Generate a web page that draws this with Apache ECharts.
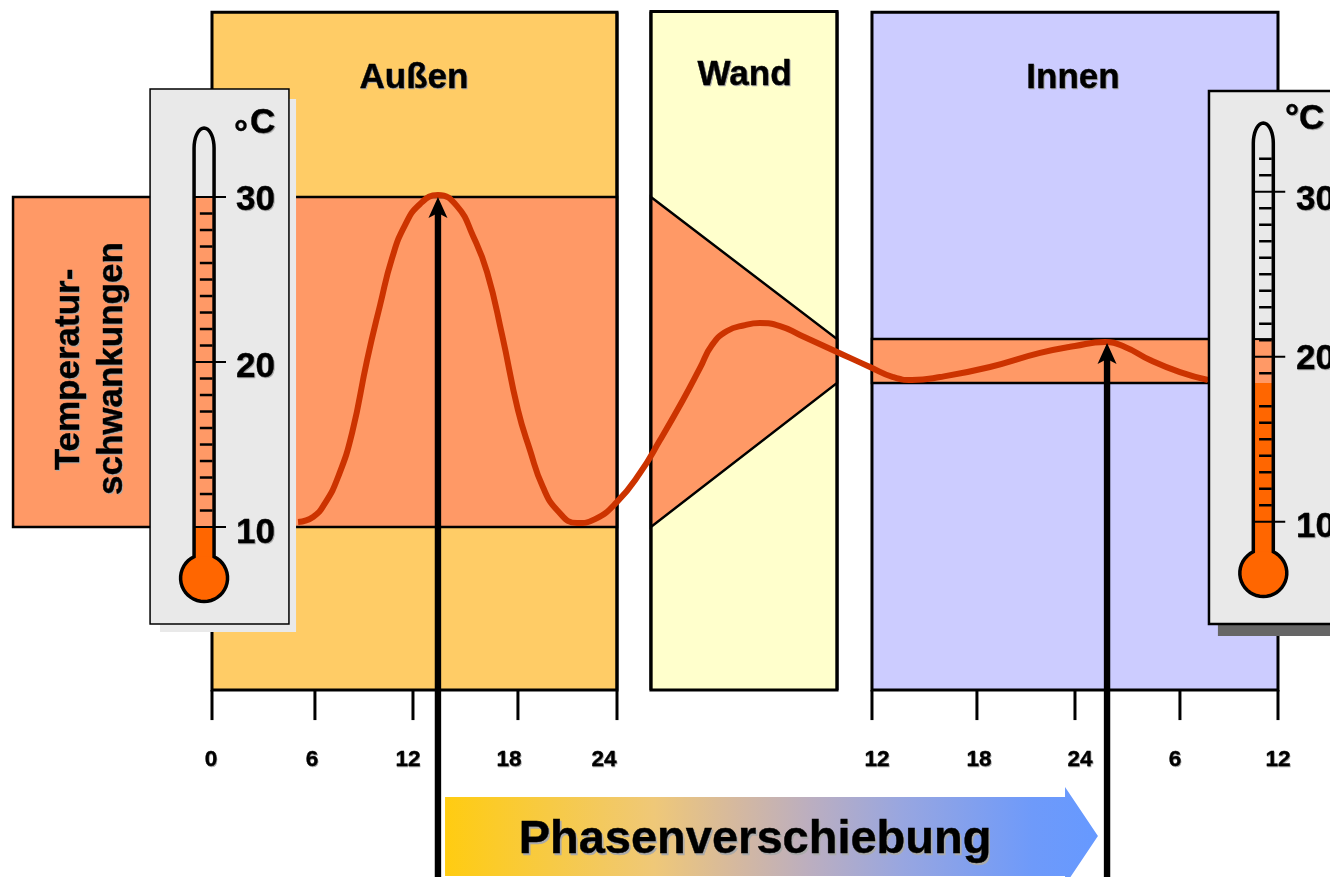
<!DOCTYPE html>
<html>
<head>
<meta charset="utf-8">
<style>
  html, body { margin: 0; padding: 0; background: #fff; }
  #chart { width: 1330px; height: 877px; }
</style>
</head>
<body>
<div id="chart"></div>
<script src="https://cdn.jsdelivr.net/npm/echarts@6/dist/echarts.min.js"></script>
<script>
// Stunden (fortlaufend) und Temperatur in °C
const curveHours = [5.1, 5.99, 6.7, 7.47, 8.3, 9.19, 9.96, 10.67, 11.44, 12.33, 13.39, 14.52, 15.47, 16.3, 17.19, 18.13, 18.84, 19.61, 20.5, 21.63, 22.7, 24, 25.36, 26.55, 27.91, 28.92, 29.63, 30.52, 31.59, 32.47, 33.66, 34.84, 37.04, 38.99, 40.36, 41.48, 43.14, 46.1, 49.07, 51.14, 52.92, 54.1, 55.59, 57.36, 59.02];
const curveTemps = [10.3, 10.61, 11.45, 13.03, 15.7, 20.12, 23.45, 26.3, 28.3, 29.58, 30.12, 29.45, 27.64, 25.45, 21.64, 17.09, 14.67, 12.42, 10.97, 10.24, 10.48, 11.52, 13.27, 15.27, 17.7, 19.64, 21.03, 21.88, 22.24, 22.36, 22.18, 21.64, 20.61, 19.7, 19.09, 18.91, 19.09, 19.7, 20.55, 20.97, 21.21, 20.91, 20.12, 19.39, 18.91];

const panelNames = ["Außen", "Wand", "Innen"];
const outerRange = [30, 10];
const innerRange = [21.39, 18.73];
const scaleLabels = ["30", "20", "10"];
const timeLabels = ["0", "6", "12", "18", "24", "12", "18", "24", "6", "12"];
const peakHours = [13.39, 53.04];
const peakTemps = [30, 21.15];
const sideTitle = ["Temperatur-", "schwankungen"];
const phaseTitle = "Phasenverschiebung";

const FONT = '"Liberation Sans", Arial, sans-serif';
const INK = "#000";
const BAND = "#FF9966";
const HOT = "#FF6600";
const CARD = "#E9E9E9";

function textEl(x, y, text, size, align, rotation, fill) {
  return {
    type: "text",
    x: x,
    y: y,
    rotation: rotation || 0,
    style: {
      x: 0,
      y: 0,
      text: text,
      fill: fill,
      stroke: fill,
      lineWidth: 0.4,
      font: "bold " + size + "px " + FONT,
      textAlign: align || "center",
      textVerticalAlign: "middle"
    }
  };
}

// Schatten als zweiter Text dahinter
function label(p, text, size, align, shadow, rotation) {
  const x = p[0] + (rotation ? 2 : 0);
  const y = p[1] + (rotation ? 0 : 2);
  const children = [];
  if (shadow) {
    children.push(textEl(x + shadow, y + shadow, text, size, align, rotation, "#AAAAAA"));
  }
  children.push(textEl(x, y, text, size, align, rotation, INK));
  return { type: "group", children: children };
}

function box(api, h0, t0, h1, t1, fill, stroke, width) {
  const a = api.coord([h0, t0]);
  const b = api.coord([h1, t1]);
  return {
    type: "rect",
    shape: { x: a[0], y: a[1], width: b[0] - a[0], height: b[1] - a[1] },
    style: { fill: fill, stroke: stroke || null, lineWidth: width || 0 }
  };
}

function seg(api, h0, t0, h1, t1, color, width) {
  const a = api.coord([h0, t0]);
  const b = api.coord([h1, t1]);
  return {
    type: "line",
    shape: { x1: a[0], y1: a[1], x2: b[0], y2: b[1] },
    style: { stroke: color, lineWidth: width }
  };
}

// Flächen: Außen, Wand, Innen und die Schwankungsbänder
function renderPanels(params, api) {
  const children = [
    box(api, 0, 41.2, 24, 0.12, "#FFCC66", INK, 3),
    box(api, 26.01, 41.25, 37.04, 0.12, "#FFFFCC", INK, 3),
    box(api, 39.11, 41.2, 63.17, 0.12, "#CCCCFF", INK, 3),
    box(api, -11.79, outerRange[0], 24, outerRange[1], BAND, INK, 2.5),
    box(api, 39.11, innerRange[0], 60, innerRange[1], BAND, INK, 2.5),
    {
      type: "polygon",
      shape: {
        points: [
          api.coord([26.01, outerRange[0]]),
          api.coord([37.04, innerRange[0]]),
          api.coord([37.04, innerRange[1]]),
          api.coord([26.01, outerRange[1]])
        ]
      },
      style: { fill: BAND, stroke: INK, lineWidth: 2.5 }
    }
  ];
  const tickHours = [0, 6.1, 11.91, 18.13, 24, 39.11, 45.33, 51.14, 57.36, 63.17];
  tickHours.forEach(h => children.push(seg(api, h, 0.12, h, -1.7, INK, 3)));
  children.push(seg(api, 24, 41.2, 24, 0.12, INK, 3));
  children.push(seg(api, 26.01, 41.25, 26.01, 0.12, INK, 3));
  children.push(seg(api, 37.04, 41.25, 37.04, 0.12, INK, 3));
  return { type: "group", children: children };
}

function tubeOutline(api, cx, topT, bulbT) {
  const c = api.coord([cx, bulbT]);
  const top = api.coord([cx, topT])[1];
  const w = 10;
  const r = 23.5;
  const pts = [];
  for (let a = 180; a <= 360; a += 10) {
    const rad = a * Math.PI / 180;
    pts.push([c[0] + w * Math.cos(rad), top + 20 + 20 * Math.sin(rad)]);
  }
  const start = Math.asin(w / r);
  // vom rechten Halsansatz unten herum zum linken
  for (let i = 0; i <= 36; i++) {
    const rad = -Math.PI / 2 + start + (2 * Math.PI - 2 * start) * i / 36;
    pts.push([c[0] + r * Math.cos(rad), c[1] + r * Math.sin(rad)]);
  }
  return pts;
}

function thermometer(api, o) {
  const children = [
    box(api, o.shadow[0], o.shadow[1], o.shadow[2], o.shadow[3], o.shadowColor),
    box(api, o.card[0], o.card[1], o.card[2], o.card[3], CARD, INK, o.border)
  ];
  const dh = 10 / 16.875;
  const cx = o.cx;
  // Füllung im Röhrchen
  const outline = tubeOutline(api, cx, o.topT, o.bulbT);
  children.push(box(api, cx - dh, o.band[0], cx + dh, o.band[1], BAND));
  children.push(box(api, cx - dh, o.band[1], cx + dh, o.bulbT, HOT));
  children.push({
    type: "polygon",
    shape: { points: outline.slice(19) },
    style: { fill: HOT }
  });
  children.push({
    type: "polygon",
    shape: { points: outline },
    style: { fill: "none", stroke: INK, lineWidth: 3.5 }
  });
  o.minor.forEach(t => {
    children.push(seg(api, cx - 0.25, t + o.offset, cx + 0.5, t + o.offset, INK, 2.5));
  });
  o.major.forEach(t => {
    children.push(seg(api, cx - 0.6, t + o.offset, cx + 1.3, t + o.offset, INK, 2));
  });
  if (o.bandLine) {
    children.push(seg(api, cx - dh, o.band[0], cx + dh, o.band[0], INK, 2));
  }
  return children;
}

function renderThermometers(params, api) {
  const leftMinor = [];
  for (let t = 11; t < 30; t++) {
    if (t !== 20) leftMinor.push(t);
  }
  const rightMinor = [];
  for (let t = 11; t <= 32; t++) {
    if (t !== 20 && t !== 30 && t !== 18) rightMinor.push(t);
  }
  const left = thermometer(api, {
    card: [-3.67, 36.55, 4.56, 4.12],
    shadow: [-3.08, 35.94, 4.98, 3.64],
    shadowColor: CARD,
    border: 1.5,
    cx: -0.47,
    topT: 34.18,
    bulbT: 6.91,
    band: outerRange,
    minor: leftMinor,
    major: [30, 20, 10],
    offset: 0
  });
  const right = thermometer(api, {
    card: [59.08, 36.42, 67, 4.12],
    shadow: [59.61, 35, 67, 3.39],
    shadowColor: "#666",
    border: 2.5,
    cx: 62.3,
    topT: 34.48,
    bulbT: 7.21,
    band: innerRange,
    minor: rightMinor,
    major: [30, 20, 10],
    offset: 0.32,
    bandLine: true
  });
  return { type: "group", children: left.concat(right) };
}

function renderPhaseArrow(params, api) {
  return {
    type: "polygon",
    shape: {
      points: [
        api.coord([13.81, -6.36]),
        api.coord([50.55, -6.36]),
        api.coord([50.55, -5.76]),
        api.coord([52.5, -8.73]),
        api.coord([50.55, -11.7]),
        api.coord([50.55, -11.15]),
        api.coord([13.81, -11.15])
      ]
    },
    style: {
      fill: new echarts.graphic.LinearGradient(0, 0, 1, 0, [
        { offset: 0, color: "#FFCC11" },
        { offset: 0.32, color: "#EFC878" },
        { offset: 0.45, color: "#D4B8A0" },
        { offset: 0.56, color: "#BBAEC0" },
        { offset: 0.7, color: "#98A6E0" },
        { offset: 0.9, color: "#6E9AFA" },
        { offset: 1, color: "#6699FF" }
      ])
    }
  };
}

function renderPeakArrow(params, api) {
  const tip = api.coord([api.value(0), api.value(1)]);
  const foot = api.coord([api.value(0), -11.21]);
  return {
    type: "group",
    children: [
      {
        type: "rect",
        shape: { x: tip[0] - 3.2, y: tip[1] + 14, width: 6.4, height: foot[1] - tip[1] - 14 },
        style: { fill: INK }
      },
      {
        type: "polygon",
        shape: {
          points: [
            tip,
            [tip[0] + 9.5, tip[1] + 21],
            [tip[0], tip[1] + 16],
            [tip[0] - 9.5, tip[1] + 21]
          ]
        },
        style: { fill: INK }
      }
    ]
  };
}

function renderTexts(params, api) {
  const children = [];
  const panelAt = [[11.97, 37.33], [31.56, 37.5], [51.02, 37.33]];
  panelNames.forEach((n, i) => children.push(label(api.coord(panelAt[i]), n, 35, "center", 1)));

  const timeAt = [-0.06, 5.93, 11.61, 17.6, 23.23, 39.41, 45.45, 51.44, 57.07, 63.17];
  timeLabels.forEach((n, i) => children.push(label(api.coord([timeAt[i], -4]), n, 22.5, "center", 0.7)));

  const leftAt = [29.94, 19.82, 9.76];
  const rightAt = [29.94, 20.3, 10.12];
  scaleLabels.forEach((n, i) => {
    children.push(label(api.coord([1.42, leftAt[i]]), n, 35, "left", 1));
    children.push(label(api.coord([64.24, rightAt[i]]), n, 35, "left", 1));
  });
  children.push(label(api.coord([2.25, 34.6]), "C", 35, "left", 1));
  children.push(label(api.coord([1.72, 33.88]), "°", 35, "center", 0));
  children.push(label(api.coord([63.58, 34.85]), "°C", 35, "left", 1));

  children.push(label(api.coord([-8.6, 19.55]), sideTitle[0], 35, "center", 1, Math.PI / 2));
  children.push(label(api.coord([-6.05, 19.6]), sideTitle[1], 35, "center", 1, Math.PI / 2));
  children.push(label(api.coord([32.18, -8.85]), phaseTitle, 47, "center", 1.5));
  return { type: "group", children: children };
}

const chart = echarts.init(document.getElementById("chart"), null, { renderer: "canvas" });

const option = {
  animation: false,
  backgroundColor: "#fff",
  grid: { left: 0, right: 0, top: 0, bottom: 0 },
  xAxis: { type: "value", min: -12.563, max: 66.252, show: false },
  yAxis: { type: "value", min: -11.21, max: 41.94, show: false },
  series: [
    { type: "custom", clip: false, z: 1, silent: true, data: [[0, 0]], renderItem: renderPanels },
    {
      type: "line",
      z: 2,
      silent: true,
      smooth: 0.5,
      symbol: "none",
      lineStyle: { color: "#CC3300", width: 6 },
      data: curveHours.map((h, i) => [h, curveTemps[i]])
    },
    { type: "custom", clip: false, z: 3, silent: true, data: [[0, 0]], renderItem: renderThermometers },
    { type: "custom", clip: false, z: 4, silent: true, data: [[0, 0]], renderItem: renderPhaseArrow },
    {
      type: "custom",
      clip: false,
      z: 5,
      silent: true,
      data: peakHours.map((h, i) => [h, peakTemps[i]]),
      renderItem: renderPeakArrow
    },
    { type: "custom", clip: false, z: 6, silent: true, data: [[0, 0]], renderItem: renderTexts }
  ]
};

chart.setOption(option);
window.addEventListener("resize", () => chart.resize(), false);
</script>
</body>
</html>
